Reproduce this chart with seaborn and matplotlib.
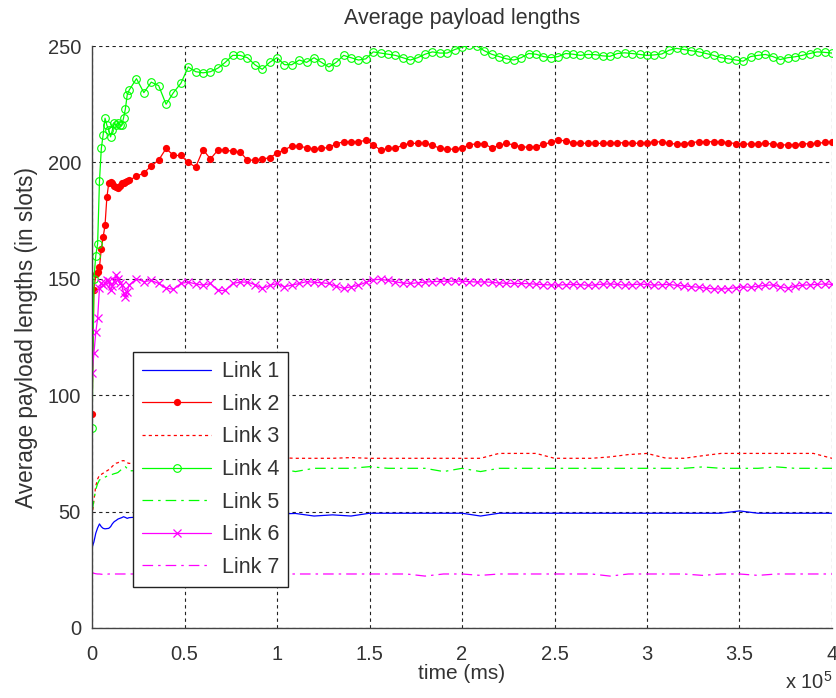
import matplotlib
matplotlib.use("Agg")
import matplotlib.pyplot as plt
import numpy as np
import seaborn as sns
from matplotlib.ticker import FuncFormatter, MultipleLocator

# sample times (ms): fine near the start, then regular steps
t_mark = np.concatenate([np.arange(0, 20000, 1000), np.arange(20000, 400001, 4000)])
t_line = np.concatenate([np.arange(0, 20000, 1000), np.arange(20000, 400001, 10000)])

# --- series with markers (Link 2, 4, 6) on t_mark ------------------------- #
link2 = [92, 145, 152, 153, 155, 163, 168, 173, 185, 191,
         191.7, 191, 190, 189.5, 189, 190, 191, 191, 191.5, 192,
         192.4, 194, 195.5, 198.5, 201, 206, 203, 203, 200, 198,
         205.5, 201.5, 205.3, 205.3, 204.8, 204.5, 201, 201, 201.5, 202,
         204, 205.5, 207, 207, 206.3, 205.8, 206, 206.5, 208, 208.9,
         208.9, 208.9, 209.5, 207.6, 205.3, 206, 206, 207.5, 208.2, 208.2,
         208.2, 207.5, 206, 205.6, 205.8, 206.2, 207.6, 208, 208.1, 206.2,
         207.3, 208.2, 207.5, 206.8, 206.5, 206.8, 207.8, 208.6, 209.7, 209.2,
         208.5, 208.3, 208.2, 208.2, 208.2, 208.3, 208.5, 208.4, 208.3, 208.2,
         208.5, 208.8, 208.9, 208.2, 207.9, 208.1, 208.5, 208.9, 208.9, 208.9,
         208.9, 208.5, 208.1, 207.9, 207.9, 208.1, 208.2, 207.9, 207.6, 207.5,
         207.7, 207.9, 208.1, 208.2, 208.6, 208.9]
link4 = [86, 150, 160, 165, 192, 206, 212, 219, 216, 214,
         211, 214, 217, 216, 217, 216, 216, 219, 223, 229,
         231, 236, 230, 234.5, 233, 225, 230, 234, 241, 239,
         238.5, 239, 240.5, 243, 246, 246, 245, 242, 240, 243,
         245, 242, 242, 244, 243, 245, 243, 241, 243, 246,
         245, 244, 244.5, 247.5, 247, 246.5, 246, 245, 244, 245,
         246.5, 247.5, 247, 247, 248.5, 249.5, 250.5, 250, 248, 246.5,
         245.5, 244.5, 244, 245, 246.8, 246.5, 245.5, 245, 245.5, 246.8,
         246.5, 246, 246.4, 246.3, 245.8, 245.6, 246.8, 247.1, 246.8, 246.4,
         246, 246.2, 246.6, 248.2, 249, 248.5, 248, 247.5, 246.8, 246,
         245, 244.5, 244, 243.5, 245.5, 246, 246.4, 245.5, 244.2, 245,
         245.4, 246, 246.8, 247.5, 247.3, 247]
link6 = [109.5, 118, 127, 133, 146, 148, 147.3, 148, 149.5, 149,
         145, 147, 149, 151.6, 150, 148, 147.3, 144, 142.3, 144.5,
         147.3, 150, 148.8, 149.3, 148, 146, 145.5, 148, 148.6, 147.8,
         147.3, 148, 145, 145, 148, 148.6, 148.6, 147.5, 145.9, 147.2,
         148, 146.6, 147.3, 148, 148.8, 148.5, 148.3, 148, 146.8, 145.9,
         146.6, 147.2, 148.5, 149.6, 149.8, 149.3, 148.7, 148.2, 148, 148.3,
         148.6, 148.8, 148.9, 149, 149, 149, 148.8, 148.6, 148.7, 148.5,
         148.2, 148.1, 148, 148, 147.9, 147.7, 147.5, 147.4, 147.3, 147.5,
         147.6, 147.5, 147.2, 147.4, 147.7, 147.8, 147.6, 147.3, 147.5, 147.7,
         147.6, 147.3, 147.5, 147.6, 147.2, 147.0, 146.6, 146.4, 146, 145.7,
         145.6, 145.8, 146.2, 146.5, 146.4, 146.8, 147.2, 147.4, 146.6, 146,
         146.8, 147.3, 147.4, 147.6, 147.8, 147.6]

# --- plain line series (Link 1, 3, 5, 7) on t_line ------------------------ #
link1 = [34.5, 37, 40.7, 43, 44.7, 43.5, 42.8, 42.6, 42.7, 42.8,
         43.5, 44.8, 45.7, 46.2, 46.8, 47.1, 47.4, 47.8, 47.5, 47.1,
         47.4, 48, 48.5, 48.8, 49, 48.8, 49.1, 48.9, 49, 49.2,
         48.1, 48.6, 48.1, 49.3, 49.3, 49.3, 49.3, 49.3, 49.3, 48.1,
         49.3, 49.3, 49.3, 49.3, 49.3, 49.3, 49.3, 49.3, 49.3, 49.3,
         49.3, 49.3, 49.3, 50.3, 49.3, 49.3, 49.3, 49.3, 49.3]
link3 = [48, 55, 61, 64, 65.7, 66, 66.5, 67, 67.5, 68,
         68.6, 69.5, 70.2, 70.8, 71, 71.5, 71.8, 71.9, 71.6, 71,
         70.7, 71.5, 72, 72.3, 72.6, 72.9, 72.9, 72.9, 73.2, 72.9,
         72.9, 72.9, 73.2, 72.9, 72.9, 72.9, 72.9, 72.9, 72.9, 72.9,
         75, 75, 75, 72.9, 72.9, 72.9, 73.5, 74.5, 75, 73,
         72.9, 74, 75, 75, 75, 75, 75, 75, 72.9]
link5 = [50, 55, 59.5, 62, 63.6, 64, 64.3, 64.8, 65.2, 65.5,
         65.7, 66, 66.3, 66.5, 66.8, 67.5, 68.2, 68.8, 69.3, 68.5,
         67.5, 67.8, 68, 68.3, 68.5, 68.5, 68.6, 68.6, 68.6, 67.2,
         68.6, 68.6, 68.6, 69.3, 68.6, 68.6, 68.6, 67.2, 68.6, 67.2,
         68.6, 68.6, 68.6, 68.6, 68.6, 68.6, 68.6, 68.6, 68.6, 68.6,
         68.6, 69.2, 68.6, 68.6, 68.6, 69.2, 68.6, 68.6, 68.6]
link7 = [23.8, 23.5, 23.3, 23.2, 23.2, 23.1, 23, 23, 23.1, 23.2,
         23.2, 23.2, 23.2, 23.2, 23.2, 23.2, 23.2, 23.2, 23.2, 23.2,
         23.2, 23.2, 23.2, 23.2, 23.2, 23.2, 23.2, 23.2, 23.2, 23.2,
         23.2, 23.2, 23.2, 23.2, 23.2, 23.2, 22.3, 23.2, 23.2, 22.6,
         23.2, 23.2, 23.2, 23.2, 23.2, 23.2, 22.3, 23.2, 23.2, 23.2,
         23.2, 22.6, 23.2, 23.2, 22.6, 23.2, 23.2, 23.2, 23.2]

for name, s in [("link2", link2), ("link4", link4), ("link6", link6)]:
    assert len(s) == len(t_mark), (name, len(s), len(t_mark))
for name, s in [("link1", link1), ("link3", link3), ("link5", link5), ("link7", link7)]:
    assert len(s) == len(t_line), (name, len(s), len(t_line))

sns.set_style("white")
plt.rcParams.update({
    "font.family": ["Liberation Sans", "DejaVu Sans"],
    "font.size": 14.5,
    "mathtext.default": "regular",
    "text.color": "#333333",
    "axes.labelcolor": "#333333",
    "xtick.color": "#333333",
    "ytick.color": "#333333",
})

BLUE, RED, GREEN, MAG = "#0000ff", "#ff0000", "#00ff00", "#ff00ff"
DOT = (0, (2.5, 2.5))
DASHDOT = (0, (8.5, 4, 2, 4))

fig = plt.figure(figsize=(8.37, 6.98), dpi=100)
ax = fig.add_axes([0.110, 0.1003, 0.884, 0.8337])

lw = 0.9
sns.lineplot(x=t_line, y=link1, ax=ax, color=BLUE, lw=lw, label="Link 1")
sns.lineplot(x=t_mark, y=link2, ax=ax, color=RED, lw=lw, marker="o",
             markersize=5.2, markeredgewidth=0, label="Link 2")
sns.lineplot(x=t_line, y=link3, ax=ax, color=RED, lw=lw, linestyle=DOT, label="Link 3")
sns.lineplot(x=t_mark, y=link4, ax=ax, color=GREEN, lw=lw, marker="o",
             markersize=5.5, markerfacecolor="none", markeredgecolor=GREEN,
             markeredgewidth=0.8, label="Link 4")
sns.lineplot(x=t_line, y=link5, ax=ax, color=GREEN, lw=lw, linestyle=DASHDOT, label="Link 5")
sns.lineplot(x=t_mark, y=link6, ax=ax, color=MAG, lw=lw, marker="x",
             markersize=6, markeredgewidth=0.9, markeredgecolor=MAG, label="Link 6")
sns.lineplot(x=t_line, y=link7, ax=ax, color=MAG, lw=lw, linestyle=DASHDOT, label="Link 7")

ax.set_xlim(0, 400000)
ax.set_ylim(0, 250)
ax.xaxis.set_major_locator(MultipleLocator(50000))
ax.yaxis.set_major_locator(MultipleLocator(50))
ax.xaxis.set_major_formatter(FuncFormatter(lambda v, p: f"{v / 1e5:g}"))
ax.grid(True, color="#222222", linestyle=(0, (3, 3)), linewidth=0.8)
for side in ("top", "right"):
    ax.spines[side].set_visible(False)
for side in ("left", "bottom"):
    ax.spines[side].set_color("#444444")
    ax.spines[side].set_linewidth(1.0)
ax.tick_params(direction="in", length=4, width=0.8)
ax.tick_params(axis="x", pad=12)
ax.tick_params(axis="y", pad=8)

ax.set_title("Average payload lengths", fontsize=15.5, pad=16)
ax.set_xlabel("time (ms)", fontsize=15, labelpad=0)
ax.set_ylabel("Average payload lengths (in slots)", fontsize=16.3, labelpad=7)
fig.text(0.995, 0.008, r"x 10$^5$", ha="right", va="bottom", fontsize=14.5)

leg = ax.legend(loc="upper left", bbox_to_anchor=(0.0554, 0.474), borderaxespad=0,
                fancybox=False, framealpha=1, edgecolor="#222222", fontsize=15.5,
                handlelength=3.2, handletextpad=0.5, labelspacing=0.54, borderpad=0.42)
leg.get_frame().set_linewidth(1.0)

fig.savefig("out.png", dpi=100)
